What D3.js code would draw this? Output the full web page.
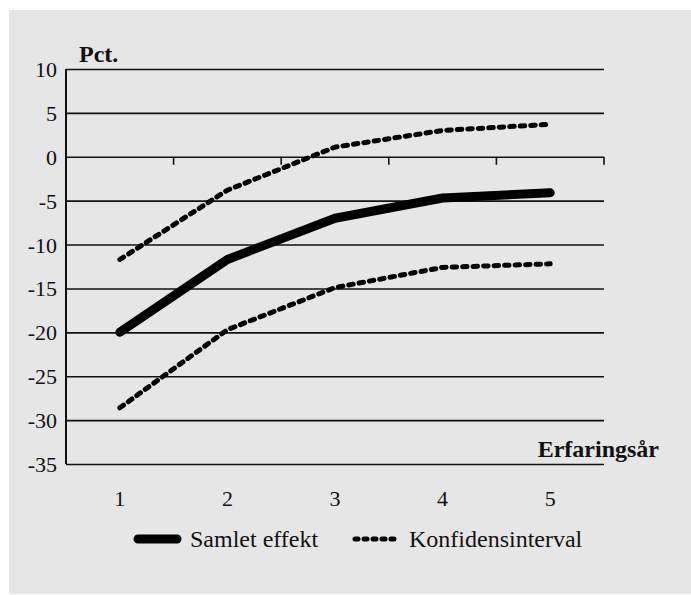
<!DOCTYPE html>
<html>
<head>
<meta charset="utf-8">
<script src="https://cdn.jsdelivr.net/npm/d3@7"></script>
<style>
  html, body { margin: 0; padding: 0; background: #ffffff; }
  svg { display: block; }
  text { font-family: "Liberation Serif", "Times New Roman", serif; fill: #111; }
</style>
</head>
<body>
<div id="chart"></div>
<script>
// --- Data ---
const years = [1, 2, 3, 4, 5];
const samletEffekt = [-20, -11.7, -7, -4.7, -4.1];
const konfUpper = [-11.7, -3.8, 1.1, 3.0, 3.7];
const konfLower = [-28.6, -19.7, -14.9, -12.6, -12.2];
const yTicks = [10, 5, 0, -5, -10, -15, -20, -25, -30, -35];
const seriesNames = ["Samlet effekt", "Konfidensinterval"];

// --- Layout ---
const W = 691, H = 595;
const plot = { left: 66, right: 604, top: 69, bottom: 464 };

const svg = d3.select("#chart").append("svg")
    .attr("width", W)
    .attr("height", H);

// gray panel
svg.append("rect")
    .attr("x", 9).attr("y", 10)
    .attr("width", W - 9).attr("height", 584)
    .attr("fill", "#e6e6e6");

const x = d3.scaleBand().domain(years).range([plot.left, plot.right]).paddingInner(0).paddingOuter(0);
const y = d3.scaleLinear().domain([-35, 10]).range([plot.bottom, plot.top]);

// y axis with gridlines (plain hyphen for negatives, like the original)
const yAxis = d3.axisLeft(y)
    .tickValues(yTicks)
    .tickFormat(d => String(d))
    .tickSize(-(plot.right - plot.left))
    .tickPadding(9);

const yG = svg.append("g")
    .attr("transform", `translate(${plot.left},0)`)
    .call(yAxis);
yG.attr("font-family", null);
yG.select(".domain").remove();
yG.selectAll(".tick line").attr("stroke", "#111").attr("stroke-width", 1.6);
yG.selectAll(".tick text")
    .style("font-size", "22px")
    .style("font-family", "'Liberation Serif', serif")
    .attr("fill", "#111")
    .attr("dy", "0.34em");

// vertical axis line
svg.append("line")
    .attr("x1", plot.left).attr("x2", plot.left)
    .attr("y1", y(10)).attr("y2", y(-35))
    .attr("stroke", "#111").attr("stroke-width", 2);

// category ticks on the zero line
const boundaries = years.map(d => x(d) + x.bandwidth());
svg.append("g").selectAll("line")
    .data(boundaries)
    .join("line")
    .attr("x1", d => d).attr("x2", d => d)
    .attr("y1", y(0)).attr("y2", y(0) + 8)
    .attr("stroke", "#111").attr("stroke-width", 1.6);

// x labels
const xAxis = d3.axisBottom(x).tickSize(0).tickPadding(26);
const xG = svg.append("g")
    .attr("transform", `translate(0,${plot.bottom})`)
    .call(xAxis);
xG.attr("font-family", null);
xG.select(".domain").remove();
xG.selectAll(".tick text")
    .style("font-size", "22px")
    .style("font-family", "'Liberation Serif', serif")
    .attr("fill", "#111");

// axis titles
svg.append("text")
    .attr("x", 79).attr("y", 62)
    .style("font-size", "24px").style("font-weight", "bold")
    .text("Pct.");
svg.append("text")
    .attr("x", 659).attr("y", 457)
    .attr("text-anchor", "end")
    .style("font-size", "24px").style("font-weight", "bold")
    .text("Erfaringsår");

// lines
const line = d3.line()
    .x((d, i) => x(years[i]) + x.bandwidth() / 2)
    .y(d => y(d));

const dashStyle = g => g
    .attr("fill", "none")
    .attr("stroke", "#000")
    .attr("stroke-width", 5)
    .attr("stroke-linecap", "round")
    .attr("stroke-dasharray", "4.5,6");

svg.append("path").datum(konfUpper).attr("d", line).call(dashStyle);
svg.append("path").datum(konfLower).attr("d", line).call(dashStyle);

svg.append("path").datum(samletEffekt)
    .attr("d", line)
    .attr("fill", "none")
    .attr("stroke", "#000")
    .attr("stroke-width", 9)
    .attr("stroke-linecap", "round")
    .attr("stroke-linejoin", "round");

// legend
const legY = 539;
const leg = svg.append("g");
leg.append("line")
    .attr("x1", 138).attr("x2", 177)
    .attr("y1", legY).attr("y2", legY)
    .attr("stroke", "#000").attr("stroke-width", 9)
    .attr("stroke-linecap", "round");
leg.append("text")
    .attr("x", 190).attr("y", legY + 8)
    .style("font-size", "24px")
    .text(seriesNames[0]);
leg.append("line")
    .attr("x1", 355).attr("x2", 399)
    .attr("y1", legY).attr("y2", legY)
    .attr("stroke", "#000").attr("stroke-width", 5)
    .attr("stroke-linecap", "round")
    .attr("stroke-dasharray", "3,6");
leg.append("text")
    .attr("x", 409).attr("y", legY + 8)
    .style("font-size", "24px")
    .text(seriesNames[1]);
</script>
</body>
</html>
